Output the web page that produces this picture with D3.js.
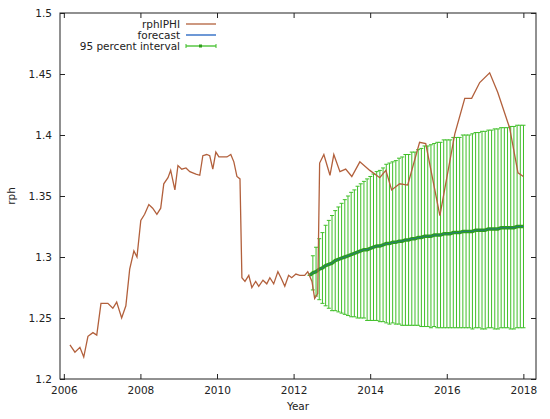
<!DOCTYPE html>
<html lang="en">
<head>
<meta charset="UTF-8">
<script src="https://cdn.jsdelivr.net/npm/d3@7"></script>
<style>
  body { margin: 0; background: #fff; }
  text { font-family: "DejaVu Sans", sans-serif; font-size: 10.5px; fill: #222; }
</style>
</head>
<body>
<div id="grafica"></div>
<script>
// observed series (year, value)
const obsYears = [2006.16,2006.29,2006.42,2006.52,2006.63,2006.76,2006.86,2006.97,2007.15,2007.28,2007.38,2007.51,2007.62,2007.72,2007.83,2007.91,2008.01,2008.11,2008.22,2008.32,2008.43,2008.53,2008.61,2008.72,2008.79,2008.90,2008.98,2009.08,2009.19,2009.29,2009.45,2009.55,2009.63,2009.73,2009.81,2009.89,2009.97,2010.05,2010.15,2010.26,2010.36,2010.44,2010.52,2010.60,2010.65,2010.73,2010.83,2010.91,2011.01,2011.09,2011.20,2011.30,2011.38,2011.48,2011.59,2011.67,2011.77,2011.87,2011.95,2012.06,2012.16,2012.29,2012.37,2012.48,2012.55,2012.63,2012.68,2012.79,2012.95,2013.05,2013.21,2013.36,2013.52,2013.73,2013.99,2014.25,2014.41,2014.56,2014.77,2014.98,2015.29,2015.45,2015.82,2016.21,2016.47,2016.65,2016.86,2017.12,2017.33,2017.64,2017.86,2018.0]
const obsValues = [1.228,1.222,1.226,1.218,1.235,1.238,1.236,1.262,1.262,1.258,1.263,1.250,1.260,1.290,1.305,1.300,1.330,1.335,1.343,1.340,1.335,1.340,1.360,1.365,1.371,1.355,1.375,1.372,1.373,1.370,1.368,1.367,1.383,1.384,1.383,1.372,1.386,1.382,1.382,1.382,1.384,1.378,1.366,1.364,1.283,1.280,1.285,1.275,1.280,1.276,1.281,1.278,1.283,1.278,1.288,1.283,1.276,1.285,1.283,1.286,1.285,1.285,1.288,1.280,1.266,1.270,1.377,1.384,1.367,1.384,1.370,1.372,1.366,1.378,1.371,1.365,1.371,1.355,1.360,1.359,1.394,1.393,1.334,1.401,1.430,1.430,1.443,1.451,1.435,1.406,1.369,1.366]

// forecast, monthly from June 2012
const fcStart = 2012.42
const fcCenter = [1.285,1.287,1.288,1.290,1.291,1.293,1.294,1.295,1.297,1.298,1.299,1.300,1.301,1.302,1.303,1.304,1.305,1.306,1.306,1.307,1.308,1.309,1.309,1.310,1.311,1.311,1.312,1.312,1.313,1.313,1.314,1.314,1.315,1.315,1.316,1.316,1.317,1.317,1.317,1.318,1.318,1.318,1.319,1.319,1.319,1.320,1.320,1.320,1.321,1.321,1.321,1.321,1.322,1.322,1.322,1.322,1.323,1.323,1.323,1.323,1.324,1.324,1.324,1.324,1.324,1.325,1.325,1.325]
const fcHalf = [0.000,0.014,0.020,0.025,0.029,0.033,0.036,0.039,0.041,0.043,0.045,0.047,0.049,0.051,0.052,0.054,0.055,0.056,0.058,0.059,0.060,0.061,0.062,0.063,0.065,0.066,0.066,0.067,0.068,0.069,0.070,0.070,0.071,0.071,0.072,0.073,0.074,0.074,0.075,0.075,0.076,0.076,0.077,0.077,0.077,0.078,0.078,0.078,0.079,0.079,0.079,0.080,0.080,0.080,0.081,0.081,0.081,0.081,0.082,0.082,0.082,0.082,0.082,0.083,0.083,0.083,0.083,0.083]

const xTicks = [2006,2008,2010,2012,2014,2016,2018]
const yTicks = [1.2,1.25,1.3,1.35,1.4,1.45,1.5]
const legendLabels = ['rphIPHI','forecast','95 percent interval']

const W = 550, H = 419
const margin = {left: 60, right: 14, top: 13, bottom: 40}
const ancho = W - margin.left - margin.right
const alto = H - margin.top - margin.bottom

const svg = d3.select('#grafica').append('svg').attr('width', W).attr('height', H)
const g = svg.append('g').attr('transform', `translate(${margin.left},${margin.top})`)

const x = d3.scaleLinear().domain([2005.9, 2018.33]).range([0, ancho])
const y = d3.scaleLinear().domain([1.2, 1.5]).range([alto, 0])

const fc = fcCenter.map((c, i) => ({t: fcStart + i / 12, c: c, lo: c - fcHalf[i], hi: c + fcHalf[i]}))
const green = '#3fbf28'

// error bars
const eb = g.append('g').attr('stroke', green).attr('stroke-width', 1)
fc.forEach(d => {
  eb.append('line').attr('x1', x(d.t)).attr('x2', x(d.t)).attr('y1', y(d.lo)).attr('y2', y(d.hi))
  eb.append('line').attr('x1', x(d.t) - 2).attr('x2', x(d.t) + 2).attr('y1', y(d.lo)).attr('y2', y(d.lo))
  eb.append('line').attr('x1', x(d.t) - 2).attr('x2', x(d.t) + 2).attr('y1', y(d.hi)).attr('y2', y(d.hi))
})
g.append('path').datum(fc).attr('fill', 'none').attr('stroke', '#2f9e1a').attr('stroke-width', 3.5)
  .attr('d', d3.line().x(d => x(d.t)).y(d => y(d.c)))
g.append('path').datum(fc).attr('fill', 'none').attr('stroke', '#1e60c0').attr('stroke-width', 0.6)
  .attr('d', d3.line().x(d => x(d.t)).y(d => y(d.c)))

// observed
g.append('path').datum(obsYears.map((t, i) => [t, obsValues[i]]))
  .attr('fill', 'none').attr('stroke', '#b2603c').attr('stroke-width', 1.3)
  .attr('d', d3.line().x(d => x(d[0])).y(d => y(d[1])))

// frame and axes
g.append('rect').attr('width', ancho).attr('height', alto).attr('fill', 'none').attr('stroke', '#222')
g.append('g').attr('transform', `translate(0,${alto})`)
  .call(d3.axisBottom(x).tickValues(xTicks).tickFormat(d3.format('d')).tickSizeInner(-5).tickSizeOuter(0).tickPadding(8))
g.append('g').attr('transform', `translate(0,0)`)
  .call(d3.axisTop(x).tickValues(xTicks).tickFormat('').tickSizeInner(-5).tickSizeOuter(0))
g.append('g')
  .call(d3.axisLeft(y).tickValues(yTicks).tickFormat(d => d).tickSizeInner(-5).tickSizeOuter(0).tickPadding(8))
g.append('g').attr('transform', `translate(${ancho},0)`)
  .call(d3.axisRight(y).tickValues(yTicks).tickFormat('').tickSizeInner(-5).tickSizeOuter(0))
g.selectAll('.domain').remove()
g.selectAll('.tick line').attr('stroke', '#222')
g.selectAll('.tick text').style('font-size', '10.5px').attr('fill', '#222')

svg.append('text').attr('x', margin.left + ancho / 2).attr('y', H - 9).attr('text-anchor', 'middle').text('Year')
svg.append('text').attr('transform', `translate(15,${margin.top + alto / 2}) rotate(-90)`).attr('text-anchor', 'middle').text('rph')

// legend
const lg = svg.append('g')
const lcol = ['#b2603c', '#1e60c0', green]
legendLabels.forEach((s, i) => {
  const yy = 24 + i * 11
  lg.append('text').attr('x', 180).attr('y', yy + 4).attr('text-anchor', 'end').text(s)
  lg.append('line').attr('x1', 186).attr('x2', 216).attr('y1', yy).attr('y2', yy).attr('stroke', lcol[i]).attr('stroke-width', 1.3)
  if (i === 2) {
    lg.append('line').attr('x1', 186).attr('x2', 186).attr('y1', yy - 2).attr('y2', yy + 2).attr('stroke', green)
    lg.append('line').attr('x1', 216).attr('x2', 216).attr('y1', yy - 2).attr('y2', yy + 2).attr('stroke', green)
    lg.append('rect').attr('x', 199).attr('y', yy - 1.5).attr('width', 3).attr('height', 3).attr('fill', '#2f9e1a')
  }
})
</script>
</body>
</html>
